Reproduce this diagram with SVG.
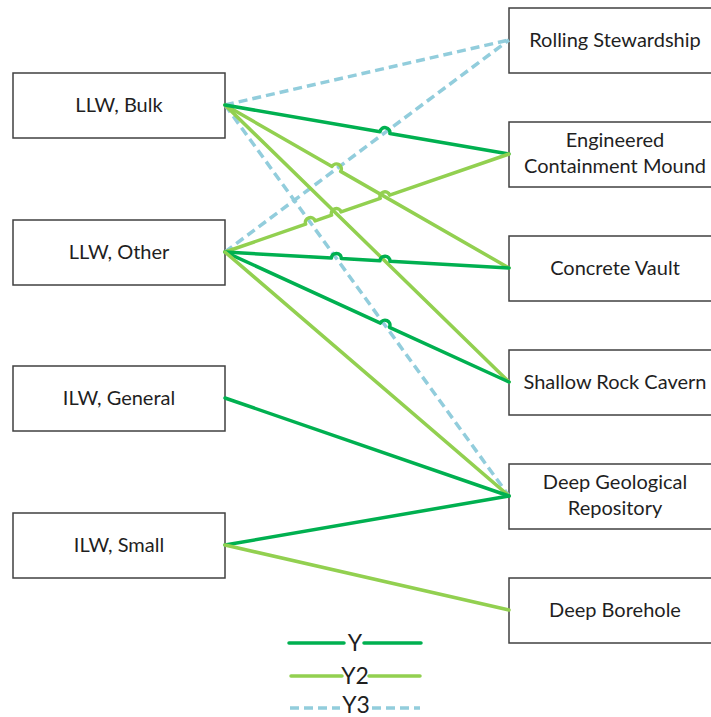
<svg xmlns="http://www.w3.org/2000/svg" width="711" height="717" viewBox="0 0 711 717">
<style>
.box{fill:#fff;stroke:#404040;stroke-width:1.5}
.lbl{font-family:Lato,"Liberation Sans",sans-serif;font-size:20px;fill:#1f1f1f;text-anchor:middle}
.leg{font-family:Lato,"Liberation Sans",sans-serif;font-size:23px;fill:#1f1f1f;text-anchor:middle}
.y{fill:none;stroke:#00B050;stroke-width:3.5;stroke-linecap:round;stroke-linejoin:round}
.y2{fill:none;stroke:#92D050;stroke-width:3.5;stroke-linecap:round;stroke-linejoin:round}
.y3{fill:none;stroke:#92CDDC;stroke-width:3.5;stroke-dasharray:9 5}
</style>
<rect width="711" height="717" fill="#fff"/>
<g id="llw-bulk"><rect class="box" x="13" y="73" width="212" height="65"/><text class="lbl" x="119" y="112">LLW, Bulk</text></g>
<g id="llw-other"><rect class="box" x="13" y="220" width="212" height="65"/><text class="lbl" x="119" y="259">LLW, Other</text></g>
<g id="ilw-general"><rect class="box" x="13" y="366" width="212" height="65"/><text class="lbl" x="119" y="405">ILW, General</text></g>
<g id="ilw-small"><rect class="box" x="13" y="513" width="212" height="65"/><text class="lbl" x="119" y="552">ILW, Small</text></g>
<g id="rolling"><rect class="box" x="509" y="8" width="212" height="65"/><text class="lbl" x="615" y="47">Rolling Stewardship</text></g>
<g id="ecm"><rect class="box" x="509" y="122" width="212" height="65"/><text class="lbl" x="615" y="147">Engineered</text><text class="lbl" x="615" y="173">Containment Mound</text></g>
<g id="vault"><rect class="box" x="509" y="236" width="212" height="65"/><text class="lbl" x="615" y="275">Concrete Vault</text></g>
<g id="cavern"><rect class="box" x="509" y="350" width="212" height="65"/><text class="lbl" x="615" y="389">Shallow Rock Cavern</text></g>
<g id="dgr"><rect class="box" x="509" y="464" width="212" height="65"/><text class="lbl" x="615" y="489">Deep Geological</text><text class="lbl" x="615" y="515">Repository</text></g>
<g id="borehole"><rect class="box" x="509" y="578" width="212" height="65"/><text class="lbl" x="615" y="617">Deep Borehole</text></g>
<g id="connectors">
<path class="y3" d="M225,105 L509,40"/>
<path class="y3" d="M225,105 L509,496"/>
<path class="y3" d="M225,252 L509,40"/>
<path class="y2" d="M225,105 L509,382"/>
<path class="y2" d="M225,105 L331.99,166.41 A5,5 0 0 1 340.67,171.39 L509,268"/>
<path class="y" d="M225,105 L380.02,131.75 A5,5 0 0 1 389.88,133.45 L509,154"/>
<path class="y2" d="M225,252 L305.64,224.17 A5,5 0 0 1 315.10,220.91 L331.60,215.21 A5,5 0 0 1 341.06,211.95 L380.22,198.44 A5,5 0 0 1 389.68,195.18 L509,154"/>
<path class="y" d="M225,252 L331.34,257.99 A5,5 0 0 1 341.32,258.55 L379.96,260.73 A5,5 0 0 1 389.94,261.29 L509,268"/>
<path class="y" d="M225,252 L380.40,323.14 A5,5 0 0 1 389.50,327.30 L509,382"/>
<path class="y2" d="M225,252 L509,496"/>
<path class="y" d="M225,398 L509,496"/>
<path class="y" d="M225,545 L509,496"/>
<path class="y2" d="M225,545 L509,610"/>
</g>
<g id="legend">
<path class="y" d="M289,643 H344 M364,643 H421"/>
<text class="leg" x="355" y="651">Y</text>
<path class="y2" d="M291,676 H342 M369,676 H420"/>
<text class="leg" x="355" y="684">Y2</text>
<path class="y3" d="M290,708 H340 M372,708 H420"/>
<text class="leg" x="356" y="713">Y3</text>
</g>
</svg>
